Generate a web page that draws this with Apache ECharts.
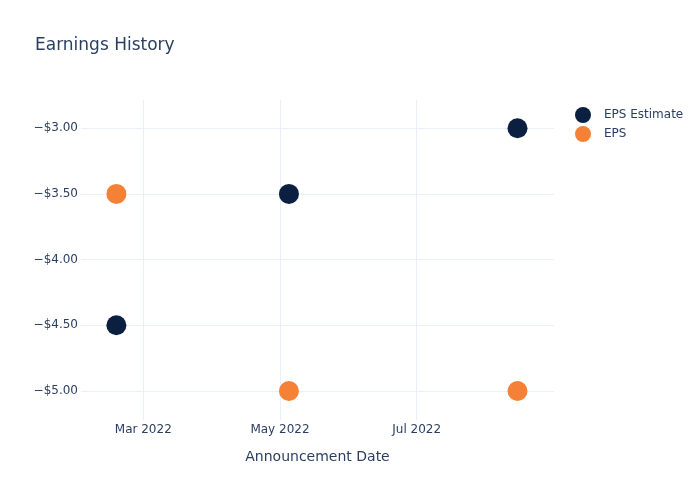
<!DOCTYPE html>
<html>
<head>
<meta charset="utf-8">
<script src="https://cdn.jsdelivr.net/npm/echarts@6/dist/echarts.min.js"></script>
<style>html,body{margin:0;padding:0;background:#fff}#c{width:700px;height:500px}</style>
</head>
<body>
<div id="c"></div>
<script>
const dates = ['2022-02-17', '2022-05-05', '2022-08-15'];
const epsEstimate = [-4.5, -3.5, -3.0];
const eps = [-3.5, -5.0, -5.0];
const yTicks = [-5.0, -4.5, -4.0, -3.5, -3.0];
const xTicks = ['2022-03-01', '2022-05-01', '2022-07-01'];
const xRange = ['2022-02-01T05:00:00', '2022-08-31T07:00:00'];
const yRange = [-5.221, -2.785];

const monthNames = ['Jan','Feb','Mar','Apr','May','Jun','Jul','Aug','Sep','Oct','Nov','Dec'];
const ts = s => new Date(s + (s.length === 10 ? 'T00:00:00' : '')).getTime();
const font = 'DejaVu Sans, Verdana, sans-serif';
const textColor = '#2a3f5f';
const gridColor = '#ebf0f8';

const chart = echarts.init(document.getElementById('c'), null, {renderer: 'canvas'});
chart.setOption({
  animation: false,
  backgroundColor: '#fff',
  title: {
    text: 'Earnings History',
    left: 30, top: 32,
    textStyle: {fontFamily: font, fontSize: 17, fontWeight: 'normal', color: textColor}
  },
  legend: {
    orient: 'vertical',
    left: 570, top: 102,
    itemWidth: 16, itemHeight: 16, itemGap: 3,
    icon: 'circle',
    textStyle: {fontFamily: font, fontSize: 12, color: textColor, padding: [0, 0, 0, 8]},
    data: ['EPS Estimate', 'EPS']
  },
  grid: {left: 81, top: 100, width: 473, height: 320, containLabel: false},
  xAxis: {
    type: 'value',
    min: ts(xRange[0]), max: ts(xRange[1]),
    name: 'Announcement Date',
    nameLocation: 'middle',
    nameGap: 30,
    nameTextStyle: {fontFamily: font, fontSize: 14, color: textColor},
    axisLine: {show: false},
    axisTick: {show: false, customValues: xTicks.map(ts)},
    axisLabel: {
      customValues: xTicks.map(ts),
      fontFamily: font, fontSize: 12, color: textColor, margin: 4,
      formatter: v => { const d = new Date(v); return monthNames[d.getMonth()] + ' ' + d.getFullYear(); }
    },
    splitLine: {show: true, lineStyle: {color: gridColor, width: 1}}
  },
  yAxis: {
    type: 'value',
    min: yRange[0], max: yRange[1],
    axisLine: {show: false},
    axisTick: {show: false, customValues: yTicks},
    axisLabel: {
      customValues: yTicks,
      fontFamily: font, fontSize: 12, color: textColor, margin: 3,
      formatter: v => (v < 0 ? '\u2212' : '') + '$' + Math.abs(v).toFixed(2)
    },
    splitLine: {show: true, lineStyle: {color: gridColor, width: 1}}
  },
  series: [
    {
      name: 'EPS Estimate', type: 'scatter', symbolSize: 20,
      itemStyle: {color: '#0b1f41', opacity: 1},
      data: dates.map((d, i) => [ts(d), epsEstimate[i]])
    },
    {
      name: 'EPS', type: 'scatter', symbolSize: 20,
      itemStyle: {color: '#f58137', opacity: 1},
      data: dates.map((d, i) => [ts(d), eps[i]])
    }
  ]
});
</script>
</body>
</html>
